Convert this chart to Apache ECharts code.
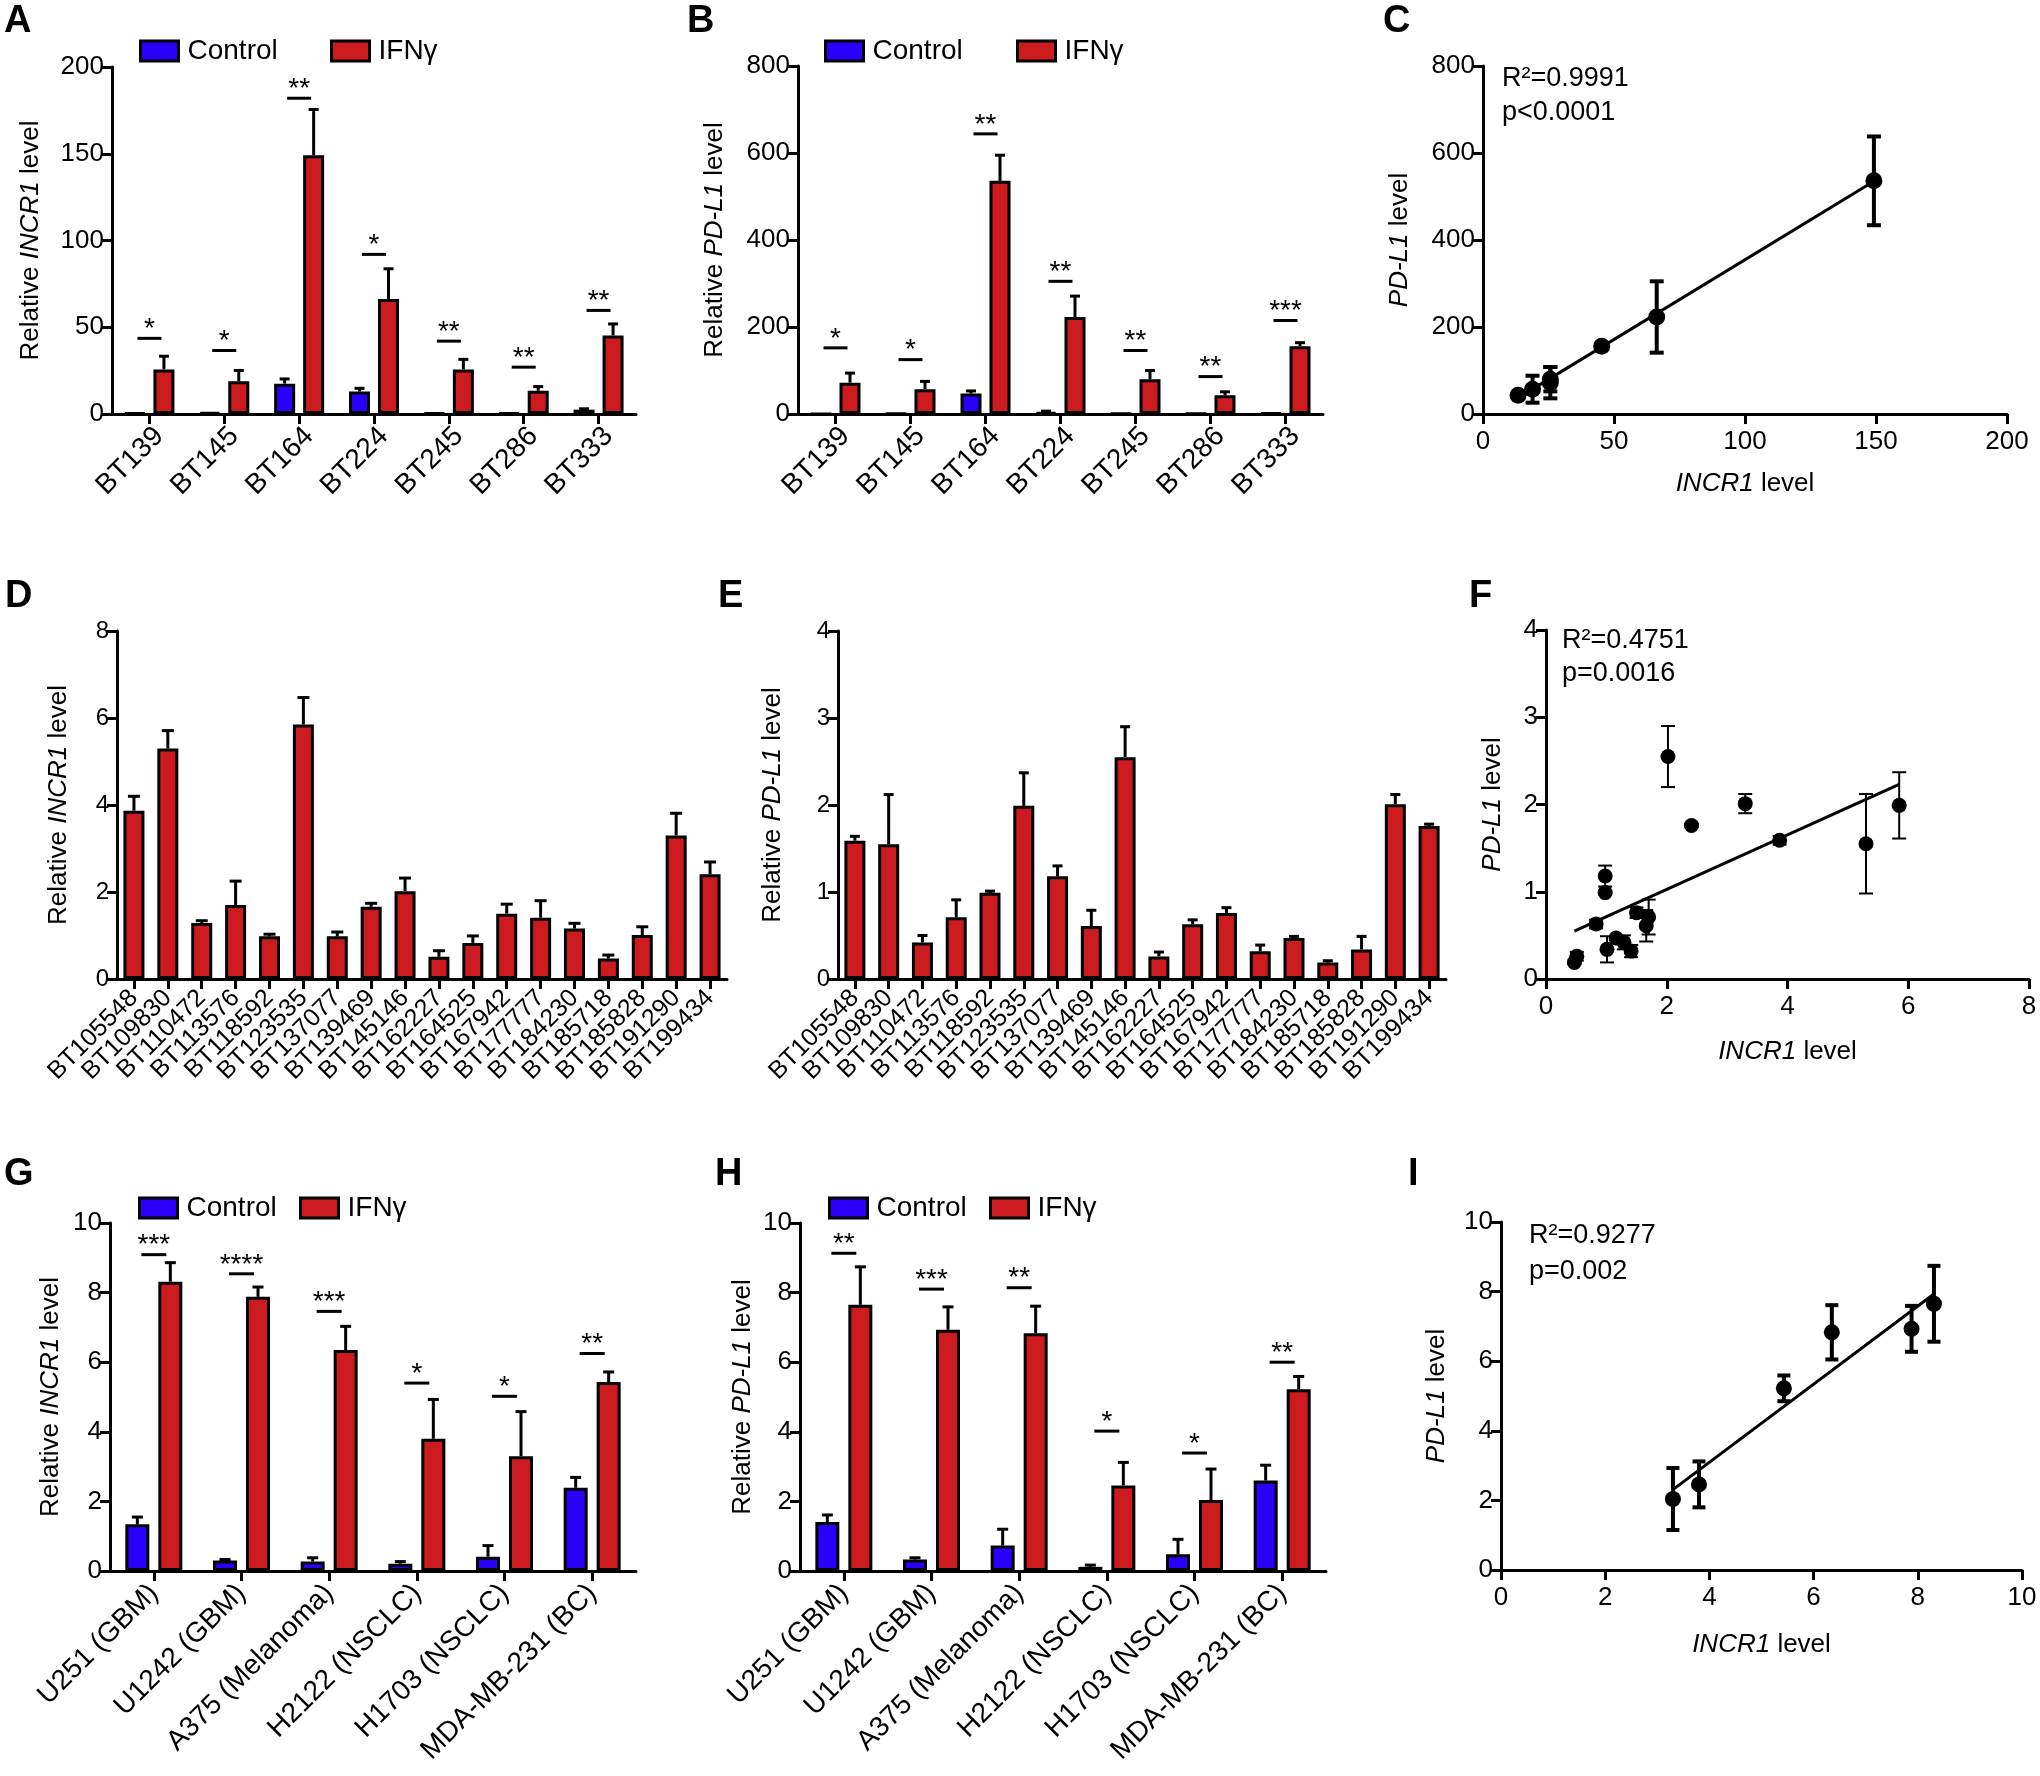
<!DOCTYPE html>
<html><head><meta charset="utf-8">
<script src="https://cdn.jsdelivr.net/npm/echarts@6.0.0/dist/echarts.min.js"></script>
<style>html,body{margin:0;padding:0;background:#fff}#c{width:2040px;height:1776px}</style>
</head><body><div id="c"></div><script>
// ---------- DATA ----------
const catsAB = ['BT139','BT145','BT164','BT224','BT245','BT286','BT333'];
// Panel A: relative INCR1
const aCtrl    = [0.5, 1.0, 17.5, 13.0, 0.5, 0.5, 2.5];
const aCtrlErr = [0, 0, 2.7, 1.8, 0, 0, 0.5];
const aIfn     = [25.7, 18.9, 149.2, 66.3, 25.7, 13.4, 45.3];
const aIfnErr  = [7.6, 6.2, 26.3, 17.4, 5.8, 2.4, 6.6];
const aSigY    = [43.6, 36.6, 182, 92, 42, 27, 59.7];
const aSig     = ['*','*','**','*','**','**','**'];
// Panel B: relative PD-L1
const bCtrl    = [0.5, 1, 47, 4, 1, 1, 2];
const bCtrlErr = [0, 0, 6, 2.6, 0, 0, 0];
const bIfn     = [72, 57, 536, 223, 80, 43, 156];
const bIfnErr  = [22, 18, 59, 48, 20, 8, 8];
const bSigY    = [152, 125, 644, 305, 146, 86, 215];
const bSig     = ['*','*','**','**','**','**','***'];
// Panel C: PD-L1 vs INCR1 (x = aIfn, y = bIfn)
const cErr     = [36, 31, 102, 82, 28, 5, 6];
const cTrend   = [[13.4, 37], [149.2, 535]];
// Panel D/E
const catsDE = ['BT105548','BT109830','BT110472','BT113576','BT118592','BT123535','BT137077','BT139469','BT145146','BT162227','BT164525','BT167942','BT177777','BT184230','BT185718','BT185828','BT191290','BT199434'];
const dVal = [3.87,5.30,1.29,1.70,0.98,5.85,0.98,1.66,2.02,0.51,0.83,1.50,1.41,1.16,0.47,1.01,3.30,2.41];
const dErr = [0.33,0.41,0.05,0.55,0.05,0.62,0.10,0.08,0.30,0.14,0.16,0.22,0.39,0.12,0.08,0.19,0.51,0.28];
const eVal = [1.59,1.55,0.42,0.71,0.99,1.99,1.18,0.61,2.55,0.26,0.63,0.76,0.32,0.47,0.19,0.34,2.01,1.76];
const eErr = [0.05,0.57,0.08,0.20,0.02,0.38,0.12,0.18,0.35,0.05,0.05,0.06,0.07,0.02,0.02,0.15,0.11,0.02];
// Panel F: x = dVal, y = eVal, err = eErr
const fTrend = [[0.47, 0.55], [5.85, 2.23]];
// Panel G/H
const catsGH = ['U251 (GBM)','U1242 (GBM)','A375 (Melanoma)','H2122 (NSCLC)','H1703 (NSCLC)','MDA-MB-231 (BC)'];
const gCtrl    = [1.34,0.30,0.27,0.21,0.41,2.39];
const gCtrlErr = [0.21,0.03,0.11,0.06,0.32,0.30];
const gIfn     = [8.31,7.88,6.35,3.80,3.30,5.43];
const gIfnErr  = [0.55,0.28,0.68,1.13,1.28,0.29];
const gSigY    = [9.09,8.54,7.46,5.40,5.02,6.25];
const gSig     = ['***','****','***','*','*','**'];
const hCtrl    = [1.41,0.33,0.73,0.12,0.48,2.60];
const hCtrlErr = [0.20,0.05,0.47,0.05,0.43,0.44];
const hIfn     = [7.65,6.93,6.83,2.46,2.04,5.22];
const hIfnErr  = [1.09,0.66,0.78,0.66,0.89,0.37];
const hSigY    = [9.13,8.10,8.14,4.02,3.39,6.00];
const hSig     = ['**','***','**','*','*','**'];
// Panel I: x = gIfn, y = hIfn, err = hIfnErr
const iTrend = [[3.30, 2.31], [8.31, 7.93]];

// ---------- STYLE / HELPERS ----------
const FF = "'Liberation Sans', Arial, Helvetica, sans-serif";
const BLUE = '#2a00fb', RED = '#cb1b1f', K = '#000';

function barErr(offset, cap) {
  return function (params, api) {
    const i = api.value(0), v = api.value(1), e = api.value(2);
    if (!(e > 0)) return null;
    const b = api.coord([i, v]), t = api.coord([i, v + e]);
    const x = b[0] + offset;
    return {type: 'group', children: [
      {type: 'line', shape: {x1: x, y1: b[1], x2: x, y2: t[1]}, style: {stroke: K, lineWidth: 3}},
      {type: 'line', shape: {x1: x - cap / 2, y1: t[1], x2: x + cap / 2, y2: t[1]}, style: {stroke: K, lineWidth: 3}}
    ]};
  };
}
function sigRender(labels, half) {
  return function (params, api) {
    const p = api.coord([api.value(0), api.value(1)]);
    return {type: 'group', children: [
      {type: 'line', shape: {x1: p[0] - half, y1: p[1], x2: p[0] + half, y2: p[1]}, style: {stroke: K, lineWidth: 3}},
      {type: 'text', x: p[0], y: p[1] - 9, style: {text: labels[params.dataIndex], fontSize: 28, fontFamily: FF, fill: K, align: 'center', verticalAlign: 'middle'}}
    ]};
  };
}
function symErr(cap, lw) {
  return function (params, api) {
    const x = api.value(0), y = api.value(1), e = api.value(2);
    if (!(e > 0)) return null;
    const lo = api.coord([x, y - e]), hi = api.coord([x, y + e]);
    const ls = {stroke: K, lineWidth: lw};
    return {type: 'group', children: [
      {type: 'line', shape: {x1: lo[0], y1: lo[1], x2: hi[0], y2: hi[1]}, style: ls},
      {type: 'line', shape: {x1: lo[0] - cap / 2, y1: lo[1], x2: lo[0] + cap / 2, y2: lo[1]}, style: ls},
      {type: 'line', shape: {x1: hi[0] - cap / 2, y1: hi[1], x2: hi[0] + cap / 2, y2: hi[1]}, style: ls}
    ]};
  };
}
const axLine = {show: true, lineStyle: {color: K, width: 3}};
const axTick = {show: true, length: 10, lineStyle: {color: K, width: 3}};
const nameStyle = {fontSize: 26, color: K, fontFamily: FF, rich: {i: {fontStyle: 'italic', fontSize: 26, color: K, fontFamily: FF}}};

function yAx(gi, max, interval, name, gap, fs) {
  return {type: 'value', gridIndex: gi, min: 0, max: max, interval: interval, name: name, nameLocation: 'middle', nameGap: gap, nameRotate: 90,
    nameTextStyle: nameStyle, axisLine: axLine, axisTick: axTick,
    axisLabel: {fontSize: fs, color: K, fontFamily: FF, margin: 8}, splitLine: {show: false}};
}
function catX(gi, data, fs, margin, va) {
  const lab = {interval: 0, rotate: 45, fontSize: fs, color: K, fontFamily: FF, margin: margin};
  if (va) lab.verticalAlign = va;
  return {type: 'category', gridIndex: gi, data: data, axisLine: axLine,
    axisTick: {show: true, alignWithLabel: true, length: 10, lineStyle: {color: K, width: 3}},
    axisLabel: lab, splitLine: {show: false}};
}
function valX(gi, max, interval, gap, fs) {
  return {type: 'value', gridIndex: gi, min: 0, max: max, interval: interval, name: '{i|INCR1} level', nameLocation: 'middle', nameGap: gap,
    nameTextStyle: nameStyle, axisLine: axLine, axisTick: axTick,
    axisLabel: {fontSize: fs, color: K, fontFamily: FF, margin: 15}, splitLine: {show: false}};
}
function groupPanel(gi, ctrl, ctrlErr, ifn, ifnErr, sigY, sig, bw, gap, cap, half) {
  const off = (bw + gap) / 2;
  const ax = {xAxisIndex: gi, yAxisIndex: gi};
  return [
    Object.assign({type: 'bar', name: 'Control', data: ctrl, barWidth: bw, barGap: (gap / bw * 100) + '%',
      itemStyle: {color: BLUE, borderColor: K, borderWidth: 3}}, ax),
    Object.assign({type: 'bar', name: 'IFNγ', data: ifn, barWidth: bw, barGap: (gap / bw * 100) + '%',
      itemStyle: {color: RED, borderColor: K, borderWidth: 3}}, ax),
    Object.assign({type: 'custom', renderItem: barErr(-off, cap), encode: {x: 0, y: 1}, z: 3,
      data: ctrl.map((v, i) => [i, v, ctrlErr[i]])}, ax),
    Object.assign({type: 'custom', renderItem: barErr(off, cap), encode: {x: 0, y: 1}, z: 3,
      data: ifn.map((v, i) => [i, v, ifnErr[i]])}, ax),
    Object.assign({type: 'custom', renderItem: sigRender(sig, half), encode: {x: 0, y: 1}, z: 3,
      data: sigY.map((v, i) => [i, v])}, ax)
  ];
}
function singlePanel(gi, vals, errs, bw, cap) {
  const ax = {xAxisIndex: gi, yAxisIndex: gi};
  return [
    Object.assign({type: 'bar', name: 'INCR1', data: vals, barWidth: bw, itemStyle: {color: RED, borderColor: K, borderWidth: 3}}, ax),
    Object.assign({type: 'custom', renderItem: barErr(0, cap), encode: {x: 0, y: 1}, z: 3,
      data: vals.map((v, i) => [i, v, errs[i]])}, ax)
  ];
}
function scatterPanel(gi, xs, ys, errs, trend, cap, lw, size) {
  const ax = {xAxisIndex: gi, yAxisIndex: gi};
  return [
    Object.assign({type: 'line', data: trend, showSymbol: false, symbol: 'none', lineStyle: {color: K, width: 3}, z: 2}, ax),
    Object.assign({type: 'custom', renderItem: symErr(cap, lw), encode: {x: 0, y: 1}, z: 3,
      data: xs.map((x, i) => [x, ys[i], errs[i]])}, ax),
    Object.assign({type: 'scatter', data: xs.map((x, i) => [x, ys[i]]), symbol: 'circle', symbolSize: size,
      itemStyle: {color: K, opacity: 1}, z: 4}, ax)
  ];
}
function leg(name, left, top) {
  return {data: [name], left: left, top: top, padding: 0, icon: 'rect', itemWidth: 38, itemHeight: 20, selectedMode: false,
    itemStyle: {borderColor: K, borderWidth: 3},
    textStyle: {fontSize: 28, color: K, fontFamily: FF, padding: [0, 0, 0, 4]}};
}
function txt(s, x, y, fs, bold) {
  return {type: 'text', left: x, top: y, style: {text: s, fontSize: fs, fontWeight: bold ? 'bold' : 'normal', fontFamily: FF, fill: K}};
}

const grids = [
  {left: 112, top: 67, width: 524, height: 347},   // A
  {left: 798, top: 66, width: 525, height: 348},   // B
  {left: 1483, top: 66, width: 524, height: 348},  // C
  {left: 117, top: 631, width: 610, height: 348},  // D
  {left: 838, top: 631, width: 608, height: 348},  // E
  {left: 1546, top: 630, width: 483, height: 349}, // F
  {left: 110, top: 1223, width: 526, height: 348}, // G
  {left: 800, top: 1223, width: 526, height: 348}, // H
  {left: 1501, top: 1222, width: 521, height: 348} // I
].map(g => Object.assign({outerBoundsMode: 'none', containLabel: false}, g));

const option = {
  animation: false,
  backgroundColor: '#fff',
  grid: grids,
  legend: [
    leg('Control', 139, 37), leg('IFNγ', 330, 37),
    leg('Control', 824, 37), leg('IFNγ', 1016, 37),
    leg('Control', 138, 1194), leg('IFNγ', 299, 1194),
    leg('Control', 828, 1194), leg('IFNγ', 989, 1194)
  ],
  xAxis: [
    catX(0, catsAB, 28, 8, 'top'),
    catX(1, catsAB, 28, 8, 'top'),
    valX(2, 200, 50, 57, 26),
    catX(3, catsDE, 25, 15),
    catX(4, catsDE, 25, 15),
    valX(5, 8, 2, 60, 26),
    catX(6, catsGH, 28, 18),
    catX(7, catsGH, 28, 18),
    valX(8, 10, 2, 62, 26)
  ],
  yAxis: [
    yAx(0, 200, 50, 'Relative {i|INCR1} level', 68, 26),
    yAx(1, 800, 200, 'Relative {i|PD-L1} level', 70, 26),
    yAx(2, 800, 200, '{i|PD-L1} level', 70, 26),
    yAx(3, 8, 2, 'Relative {i|INCR1} level', 45, 24),
    yAx(4, 4, 1, 'Relative {i|PD-L1} level', 52, 24),
    yAx(5, 4, 1, '{i|PD-L1} level', 40, 26),
    yAx(6, 10, 2, 'Relative {i|INCR1} level', 46, 26),
    yAx(7, 10, 2, 'Relative {i|PD-L1} level', 44, 26),
    yAx(8, 10, 2, '{i|PD-L1} level', 51, 26)
  ],
  series: [].concat(
    groupPanel(0, aCtrl, aCtrlErr, aIfn, aIfnErr, aSigY, aSig, 21, 8, 10, 12),
    groupPanel(1, bCtrl, bCtrlErr, bIfn, bIfnErr, bSigY, bSig, 21, 8, 10, 12),
    scatterPanel(2, aIfn, bIfn, cErr, cTrend, 14, 4, 17),
    singlePanel(3, dVal, dErr, 21, 12),
    singlePanel(4, eVal, eErr, 21, 10),
    scatterPanel(5, dVal, eVal, eErr, fTrend, 14, 2, 15),
    groupPanel(6, gCtrl, gCtrlErr, gIfn, gIfnErr, gSigY, gSig, 24, 9, 11, 12.5),
    groupPanel(7, hCtrl, hCtrlErr, hIfn, hIfnErr, hSigY, hSig, 24, 9, 11, 12.5),
    scatterPanel(8, gIfn, hIfn, hIfnErr, iTrend, 13, 4, 16)
  ),
  graphic: [
    txt('A', 4, 3, 38, true), txt('B', 687, 3, 38, true), txt('C', 1383, 3, 38, true),
    txt('D', 5, 578, 38, true), txt('E', 718, 578, 38, true), txt('F', 1469, 578, 38, true),
    txt('G', 4, 1156, 38, true), txt('H', 715, 1156, 38, true), txt('I', 1408, 1156, 38, true),
    txt('R²=0.9991', 1502, 65, 27), txt('p<0.0001', 1502, 99, 27),
    txt('R²=0.4751', 1562, 627, 27), txt('p=0.0016', 1562, 660, 27),
    txt('R²=0.9277', 1529, 1222, 27), txt('p=0.002', 1529, 1258, 27)
  ]
};
const chart = echarts.init(document.getElementById('c'), null, {renderer: 'canvas'});
chart.setOption(option);
</script></body></html>
